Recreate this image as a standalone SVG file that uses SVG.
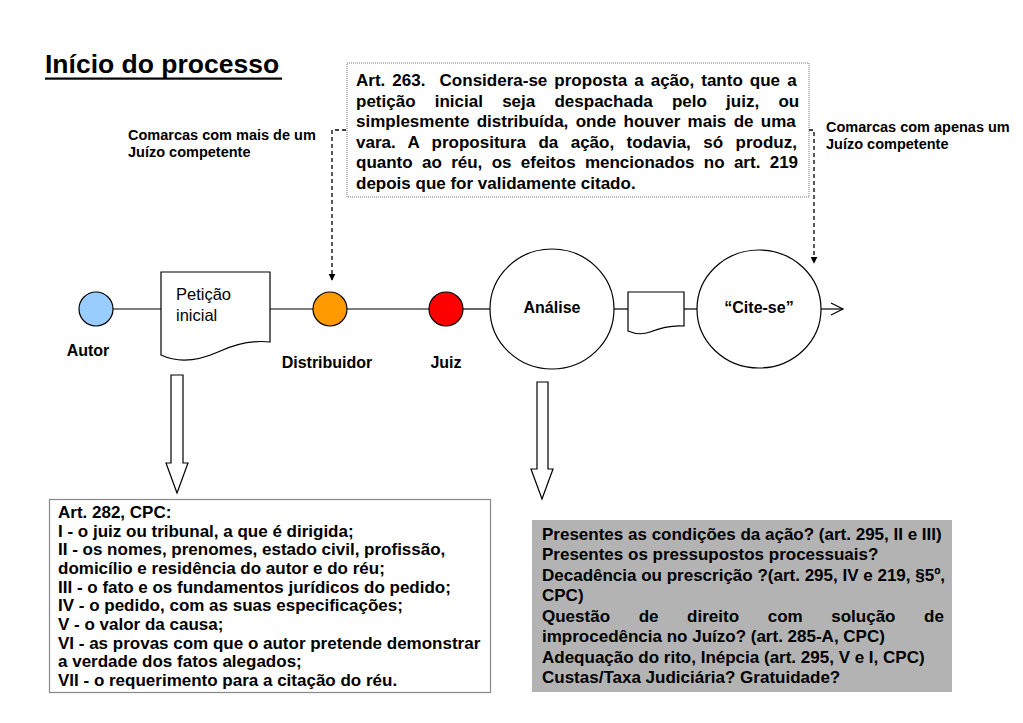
<svg xmlns="http://www.w3.org/2000/svg" width="1023" height="723" viewBox="0 0 1023 723">
<style>
text{font-family:"Liberation Sans",Arial,sans-serif;fill:#000}
.b{font-weight:bold}
.lbl{font-size:14.5px;font-weight:bold}
.nl{font-size:16px;font-weight:bold}
.t17{font-size:17px;font-weight:bold}
.sh{fill:#fff;stroke:#000;stroke-width:1.2}
.ln{stroke:#000;stroke-width:1.2;fill:none}
.dash{stroke:#000;stroke-width:1.3;fill:none;stroke-dasharray:4,3}
</style>
<defs>
<marker id="tri" viewBox="0 0 10 10" refX="9" refY="5" markerWidth="7" markerHeight="7" markerUnits="userSpaceOnUse" orient="auto">
<path d="M0,0 L10,5 L0,10 Z" fill="#000"/>
</marker>
</defs>
<rect width="1023" height="723" fill="#fff"/>

<g id="title">
<text x="45" y="73" class="b" style="font-size:26.5px">Início do processo</text>
<rect x="45" y="77.5" width="237" height="2.2" fill="#000"/>
</g>

<g id="connectors">
<line class="ln" x1="113" y1="309" x2="161" y2="309"/>
<line class="ln" x1="270" y1="309" x2="313" y2="309"/>
<line class="ln" x1="347" y1="309" x2="429" y2="309"/>
<line class="ln" x1="463" y1="309" x2="490" y2="309"/>
<line class="ln" x1="614" y1="309" x2="628" y2="309"/>
<line class="ln" x1="684" y1="309" x2="697" y2="309"/>
<line class="ln" x1="821" y1="309" x2="843" y2="309"/>
<path class="ln" d="M831,303 L843,309 L831,315"/>
<path class="dash" d="M346,130 H332 V280" marker-end="url(#tri)"/>
<path class="dash" d="M809,130 H814 V263" marker-end="url(#tri)"/>
<polygon class="sh" points="171,375 183,375 183,463 188,463 177,493 166,463 171,463"/>
<polygon class="sh" points="537,382 548,382 548,469 553,469 542,499 531,469 537,469"/>
</g>

<g id="art263">
<rect x="347" y="63" width="462" height="134" fill="#fff" stroke="#777" stroke-width="1" stroke-dasharray="1,1"/>
<text class="t17" x="356" y="86" style="word-spacing:2.35px">Art. 263.&#160; Considera-se proposta a ação, tanto que a</text>
<text class="t17" x="356" y="107" style="word-spacing:14.5px">petição inicial seja despachada pelo juiz, ou</text>
<text class="t17" x="356" y="127" style="word-spacing:2.6px">simplesmente distribuída, onde houver mais de uma</text>
<text class="t17" x="356" y="148" style="word-spacing:7.7px">vara. A propositura da ação, todavia, só produz,</text>
<text class="t17" x="356" y="168" style="word-spacing:4.6px">quanto ao réu, os efeitos mencionados no art. 219</text>
<text class="t17" x="356" y="189">depois que for validamente citado.</text>
</g>

<g id="label-mais">
<text class="lbl" x="128" y="140">Comarcas com mais de um</text>
<text class="lbl" x="128" y="157">Juízo competente</text>
</g>
<g id="label-apenas">
<text class="lbl" x="826" y="132">Comarcas com apenas um</text>
<text class="lbl" x="826" y="149">Juízo competente</text>
</g>

<g id="autor">
<circle cx="96" cy="309" r="17" fill="#99CCFF" stroke="#000" stroke-width="1.2"/>
<text class="nl" x="88" y="356" text-anchor="middle">Autor</text>
</g>

<g id="peticao">
<path class="sh" d="M161,272 H270 V342 C252,340 235,344 218,352 C200,360 180,364 161,355 Z"/>
<text x="176" y="300" style="font-size:16.5px">Petição</text>
<text x="176" y="321" style="font-size:16.5px">inicial</text>
</g>

<g id="distribuidor">
<circle cx="330" cy="309" r="17" fill="#FF9900" stroke="#000" stroke-width="1.2"/>
<text class="nl" x="327" y="368" text-anchor="middle">Distribuidor</text>
</g>

<g id="juiz">
<circle cx="446" cy="309" r="17" fill="#FF0000" stroke="#000" stroke-width="1.2"/>
<text class="nl" x="446" y="368" text-anchor="middle">Juiz</text>
</g>

<g id="analise">
<ellipse class="sh" cx="552" cy="309" rx="62" ry="60"/>
<text class="nl" x="552" y="313" text-anchor="middle">Análise</text>
</g>

<g id="documento">
<path class="sh" d="M628,292 H684 V326 C672,325 660,328 650,332 C642,335 635,334 628,331 Z"/>
</g>

<g id="citese">
<ellipse class="sh" cx="759" cy="309" rx="62" ry="59"/>
<text class="nl" x="759" y="313" text-anchor="middle">“Cite-se”</text>
</g>

<g id="art282">
<rect x="49.5" y="499.5" width="441" height="193" fill="#fff" stroke="#888" stroke-width="1.2"/>
<text class="t17" x="58" y="518">Art. 282, CPC:</text>
<text class="t17" x="58" y="536.7">I - o juiz ou tribunal, a que é dirigida;</text>
<text class="t17" x="58" y="555.3">II - os nomes, prenomes, estado civil, profissão,</text>
<text class="t17" x="58" y="574">domicílio e residência do autor e do réu;</text>
<text class="t17" x="58" y="592.7">III - o fato e os fundamentos jurídicos do pedido;</text>
<text class="t17" x="58" y="611.3">IV - o pedido, com as suas especificações;</text>
<text class="t17" x="58" y="630">V - o valor da causa;</text>
<text class="t17" x="58" y="648.7">VI - as provas com que o autor pretende demonstrar</text>
<text class="t17" x="58" y="667.3">a verdade dos fatos alegados;</text>
<text class="t17" x="58" y="686">VII - o requerimento para a citação do réu.</text>
</g>

<g id="analise-box">
<rect x="532" y="520" width="420" height="172" fill="#B3B3B3"/>
<text class="t17" x="542" y="540">Presentes as condições da ação? (art. 295, II e III)</text>
<text class="t17" x="542" y="560.4">Presentes os pressupostos processuais?</text>
<text class="t17" x="542" y="580.9">Decadência ou prescrição ?(art. 295, IV e 219, §5º,</text>
<text class="t17" x="542" y="601.3">CPC)</text>
<text class="t17" x="542" y="621.7" style="word-spacing:23.9px">Questão de direito com solução de</text>
<text class="t17" x="542" y="642.1">improcedência no Juízo? (art. 285-A, CPC)</text>
<text class="t17" x="542" y="662.6">Adequação do rito, Inépcia (art. 295, V e I, CPC)</text>
<text class="t17" x="542" y="683">Custas/Taxa Judiciária? Gratuidade?</text>
</g>
</svg>
